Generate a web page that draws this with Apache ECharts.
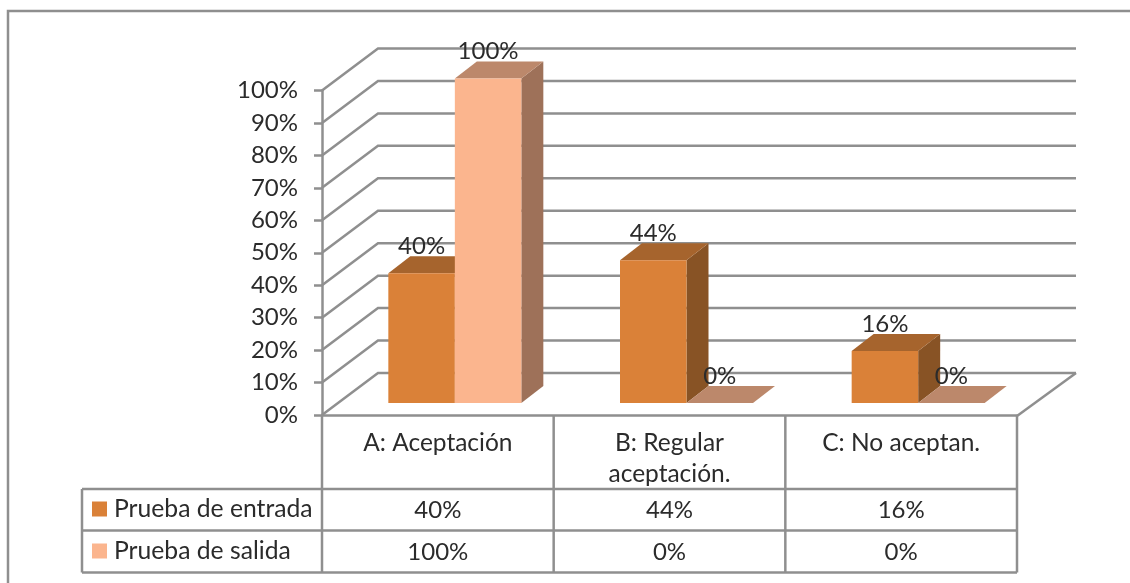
<!DOCTYPE html>
<html><head><meta charset="utf-8">
<style>html,body{margin:0;padding:0;background:#fff}#c{width:1130px;height:583px}</style>
<script src="https://cdn.jsdelivr.net/npm/echarts@6/dist/echarts.min.js"></script>
</head><body><div id="c"></div>
<script>
const categories = ['A: Aceptación', 'B: Regular\naceptación.', 'C: No aceptan.'];
const entrada = [0.40, 0.44, 0.16];
const salida = [1.00, 0.00, 0.00];
const yTicks = [0, 0.1, 0.2, 0.3, 0.4, 0.5, 0.6, 0.7, 0.8, 0.9, 1.0];
const seriesNames = ['Prueba de entrada', 'Prueba de salida'];

const FONT = 'Lato';
const FS = 24;
const TXT = '#2b2b2b';
const LINE = '#8f8f8f';
const LW = 2.5;
const pct = v => Math.round(v * 100) + '%';

// 3D layout constants
const WALL = {dx: 56, dy: -42, rightX: 1076};
const BAR = {plane: {dx: 17, dy: -12}, width: 66.5, dx: 22, dy: -17};
const TABLE = {left: 82, top: 489, r1: 530.5, bottom: 572.5};

function wallItem(params, api) {
  const p = api.coord([0, api.value(0)]);
  const x0 = 322, y = p[1];
  return {type: 'polyline', shape: {points: [[x0, y], [x0 + WALL.dx, y + WALL.dy], [WALL.rightX, y + WALL.dy]]},
    style: {stroke: LINE, lineWidth: LW, fill: 'none'}, silent: true};
}
function barRenderer(seriesIdx, cols) {
  return function (params, api) {
    const c = api.value(0), v = api.value(1);
    const top = api.coord([c, v]), base = api.coord([c, 0]);
    const xl = top[0] + BAR.plane.dx + (seriesIdx === 0 ? -BAR.width : 0);
    const xr = xl + BAR.width;
    const yt = top[1] + BAR.plane.dy, yb = base[1] + BAR.plane.dy;
    const dx = BAR.dx, dy = BAR.dy;
    const children = [
      {type: 'polygon', shape: {points: [[xr, yt], [xr + dx, yt + dy], [xr + dx, yb + dy], [xr, yb]]}, style: {fill: cols.side}},
      {type: 'polygon', shape: {points: [[xl, yt], [xl + dx, yt + dy], [xr + dx, yt + dy], [xr, yt]]}, style: {fill: cols.top}},
      {type: 'rect', shape: {x: xl, y: yt, width: BAR.width, height: yb - yt}, style: {fill: cols.front}},
      {type: 'text', z2: 50, style: {x: (xl + xr) / 2, y: yt - 27, text: pct(v), fill: TXT, font: FS + 'px ' + FONT, align: 'center', verticalAlign: 'middle'}}
    ];
    return {type: 'group', children};
  };
}
function tableItem(params, api) {
  const i = params.dataIndex;
  const c = api.coord([i, 0]);
  const w = api.size([1, 0])[0];
  const ln = (x1, y1, x2, y2) => ({type: 'line', shape: {x1, y1, x2, y2}, style: {stroke: LINE, lineWidth: LW}});
  const txt = (y, t) => ({type: 'text', style: {x: c[0], y, text: t, fill: TXT, font: FS + 'px ' + FONT, align: 'center', verticalAlign: 'middle'}});
  const xr = c[0] + w / 2;
  const ch = [
    ln(xr, 415, xr, TABLE.bottom),
    txt(510, pct(api.value(1))),
    txt(552, pct(api.value(2)))
  ];
  if (i === 0) {
    ch.push(ln(c[0] - w / 2, 415, c[0] - w / 2, TABLE.bottom));
    ch.push(ln(TABLE.left, TABLE.top, TABLE.left, TABLE.bottom));
    ch.push(ln(TABLE.left, TABLE.top, xr + 2 * w, TABLE.top));
    ch.push(ln(TABLE.left, TABLE.r1, xr + 2 * w, TABLE.r1));
    ch.push(ln(TABLE.left, TABLE.bottom, xr + 2 * w, TABLE.bottom));
  }
  if (i === 2) ch.push(ln(xr, 416, WALL.rightX, 373));
  return {type: 'group', children: ch};
}

const chart = echarts.init(document.getElementById('c'), null, {renderer: 'canvas'});
chart.setOption({
  animation: false,
  backgroundColor: '#fff',
  grid: {left: 322, top: 90.5, width: 695, height: 324.5},
  legend: {
    data: seriesNames.map(n => ({name: n, icon: 'rect'})), orient: 'vertical', left: 92, top: 495, padding: 0,
    itemWidth: 15, itemHeight: 15, itemGap: 14, selectedMode: false, itemStyle: {borderWidth: 0},
    textStyle: {fontFamily: FONT, fontSize: 24.7, lineHeight: 28, color: TXT, padding: [0, 0, 0, 2]}
  },
  xAxis: {
    type: 'category', data: categories,
    axisLine: {show: true, lineStyle: {color: LINE, width: LW}}, axisTick: {show: false},
    axisLabel: {fontFamily: FONT, fontSize: 24.5, color: TXT, margin: 12.5, lineHeight: 31, verticalAlign: 'top', interval: 0}
  },
  yAxis: {
    type: 'value', min: 0, max: 1, interval: 0.1,
    axisLine: {show: true, onZero: false, lineStyle: {color: LINE, width: LW}},
    axisTick: {show: true, length: 8, lineStyle: {color: LINE, width: LW}},
    splitLine: {show: false},
    axisLabel: {fontFamily: FONT, fontSize: FS, color: TXT, margin: 24, padding: [2, 0, 0, 0], formatter: v => pct(v)}
  },
  series: [
    {type: 'custom', name: 'muro', coordinateSystem: 'cartesian2d', data: yTicks.map(v => [v]), encode: {x: -1, y: 0}, renderItem: wallItem, silent: true, z: 1},
    {type: 'custom', name: 'tabla', coordinateSystem: 'cartesian2d', data: categories.map((c, i) => [i, entrada[i], salida[i]]), encode: {x: 0}, renderItem: tableItem, silent: true, z: 1},
    {type: 'custom', name: seriesNames[0], coordinateSystem: 'cartesian2d', itemStyle: {color: '#DA8138'}, data: entrada.map((v, i) => [i, v]), encode: {x: 0, y: 1}, z: 3,
      renderItem: barRenderer(0, {front: '#DA8138', top: '#A6642D', side: '#885325'})},
    {type: 'custom', name: seriesNames[1], coordinateSystem: 'cartesian2d', itemStyle: {color: '#FBB58E'}, data: salida.map((v, i) => [i, v]), encode: {x: 0, y: 1}, z: 4,
      renderItem: barRenderer(1, {front: '#FBB58E', top: '#BC886B', side: '#9E7159'})}
  ],
  graphic: [{type: 'rect', z: -10, silent: true, shape: {x: 8, y: 11, width: 1300, height: 800}, style: {fill: 'none', stroke: LINE, lineWidth: LW}}]
});
</script></body></html>
